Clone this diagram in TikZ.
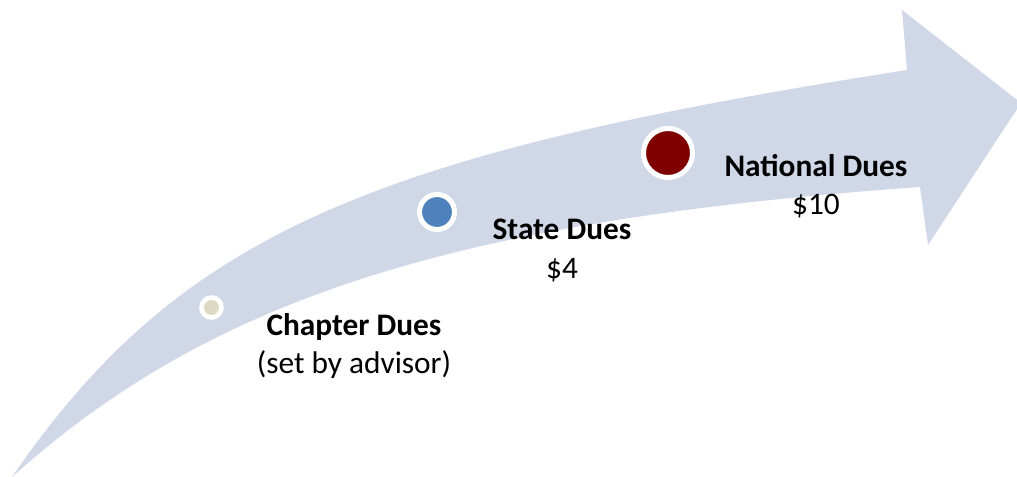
\documentclass[tikz,border=0pt]{standalone}
\usepackage{fontspec}
\setmainfont{Carlito}
\definecolor{arrowfill}{RGB}{208,216,232}
\definecolor{dotbeige}{RGB}{221,217,195}
\definecolor{dotblue}{RGB}{79,129,189}
\definecolor{dotred}{RGB}{128,0,0}
\begin{document}
\begin{tikzpicture}[x=0.75pt,y=-0.75pt,
  dot/.style={circle,draw=white,inner sep=0pt,outer sep=0pt},
  title/.style={anchor=base,inner sep=0pt,font=\fontsize{23.5}{28}\selectfont\bfseries},
  sub/.style={anchor=base,inner sep=0pt,font=\fontsize{23.5}{28}\selectfont}]
\useasboundingbox (0,0) rectangle (1017,477);
\clip (0,0) rectangle (1017,477);
% curved arrow
\coordinate (tail) at (12,477);
\coordinate (ujoin) at (907,70);
\coordinate (ubarb) at (902,10);
\coordinate (tip) at (1021,103);
\coordinate (lbarb) at (928,245);
\coordinate (ljoin) at (920,187);
\fill[arrowfill] (tail) .. controls (179,234) and (369,154) .. (ujoin)
  -- (ubarb) -- (tip) -- (lbarb) -- (ljoin)
  .. controls (456,220) and (211,298) .. (tail) -- cycle;
% dots
\node[dot,fill=dotbeige,minimum size=15pt,line width=3.45pt] (d1) at (211.5,307.5) {};
\node[dot,fill=dotblue,minimum size=26.25pt,line width=3.75pt] (d2) at (437,212) {};
\node[dot,fill=dotred,minimum size=36.75pt,line width=3.75pt] (d3) at (668,153) {};
% labels
\node[title] (t1) at (354,335) {Chapter Dues};
\node[sub] (s1) at (354,373) {(set by advisor)};
\node[title] (t2) at (562,240) {State Dues};
\node[sub] (s2) at (562,278) {\$4};
\node[title] (t3) at (816,177) {National Dues};
\node[sub] (s3) at (816,215) {\$10};
\end{tikzpicture}
\end{document}
